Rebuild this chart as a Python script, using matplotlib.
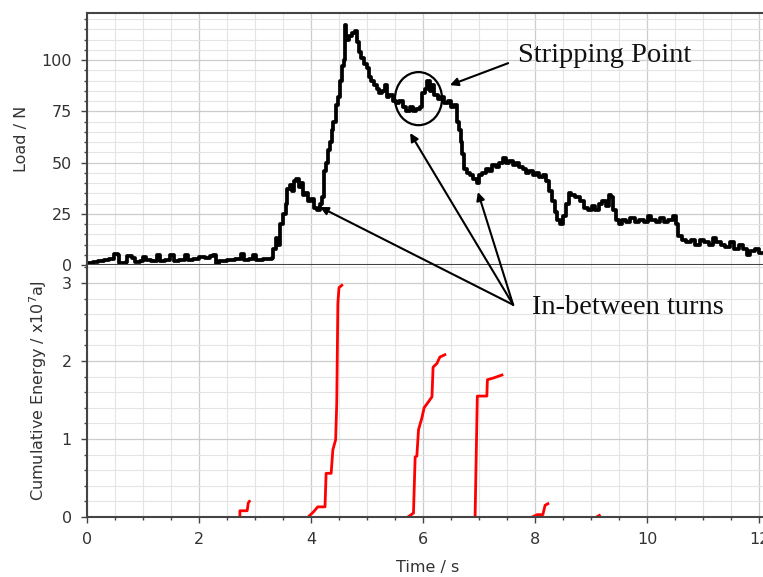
import matplotlib
matplotlib.use("Agg")
import matplotlib.pyplot as plt
import numpy as np
from matplotlib.patches import Ellipse, ConnectionPatch
from matplotlib.ticker import MultipleLocator

# Load trace (time / s, load / N)
time_s = [
    0.00, 0.10, 0.20, 0.30, 0.40, 0.48, 0.55, 0.58, 0.70, 0.72, 0.80, 0.85,
    0.95, 1.00, 1.05, 1.15, 1.25, 1.30, 1.40, 1.48, 1.55, 1.65, 1.75, 1.80,
    1.90, 2.00, 2.10, 2.20, 2.25, 2.30, 2.35, 2.50, 2.65, 2.75, 2.80, 2.90,
    2.97, 3.02, 3.15, 3.30, 3.33, 3.37, 3.40, 3.45, 3.50, 3.55, 3.58, 3.62,
    3.66, 3.70, 3.74, 3.78, 3.82, 3.86, 3.90, 3.95, 4.00, 4.05, 4.10, 4.16,
    4.20, 4.23, 4.27, 4.30, 4.34, 4.37, 4.40, 4.44, 4.48, 4.52, 4.56, 4.59,
    4.61, 4.63, 4.68, 4.73, 4.78, 4.82, 4.86, 4.90, 4.95, 5.00, 5.04, 5.08,
    5.13, 5.18, 5.22, 5.27, 5.32, 5.36, 5.40, 5.46, 5.52, 5.58, 5.64, 5.70,
    5.76, 5.82, 5.88, 5.94, 5.98, 6.03, 6.08, 6.12, 6.16, 6.20, 6.26, 6.32,
    6.38, 6.44, 6.50, 6.56, 6.60, 6.64, 6.67, 6.70, 6.73, 6.78, 6.84, 6.90,
    6.96, 7.00, 7.06, 7.12, 7.18, 7.24, 7.30, 7.36, 7.42, 7.48, 7.54, 7.60,
    7.66, 7.72, 7.78, 7.84, 7.90, 7.96, 8.02, 8.08, 8.14, 8.20, 8.25, 8.30,
    8.35, 8.40, 8.45, 8.50, 8.55, 8.60, 8.65, 8.72, 8.80, 8.88, 8.95, 9.02,
    9.08, 9.14, 9.20, 9.26, 9.32, 9.36, 9.40, 9.45, 9.50, 9.56, 9.62, 9.70,
    9.78, 9.86, 9.94, 10.02, 10.08, 10.16, 10.24, 10.30, 10.38, 10.46, 10.52,
    10.56, 10.62, 10.70, 10.78, 10.86, 10.94, 11.02, 11.10, 11.18, 11.24,
    11.32, 11.40, 11.48, 11.56, 11.64, 11.72, 11.78, 11.84, 11.92, 12.00,
    12.10, 12.20,
]
load_n = [
    1.0, 1.5, 2.0, 2.5, 3.0, 5.5, 5.0, 1.0, 1.5, 4.5, 3.5, 1.5,
    2.0, 4.0, 2.5, 2.0, 5.0, 2.0, 2.5, 5.0, 2.0, 2.5, 5.0, 2.5,
    3.0, 4.0, 3.5, 4.5, 5.0, 0.5, 2.0, 2.5, 3.0, 5.5, 2.5, 3.0,
    5.0, 2.5, 3.0, 3.5, 8.0, 13.0, 10.0, 20.0, 25.0, 30.0, 37.0, 39.0,
    36.0, 41.0, 42.0, 38.0, 40.0, 34.0, 35.0, 31.0, 32.0, 28.0, 27.0, 30.0,
    33.0, 46.0, 50.0, 56.0, 60.0, 66.0, 70.0, 78.0, 82.0, 90.0, 97.0, 100.0,
    117.0, 110.0, 112.0, 113.0, 114.0, 109.0, 104.0, 101.0, 98.0, 96.0, 92.0, 90.0,
    88.0, 86.0, 84.0, 85.0, 88.0, 82.0, 83.0, 80.0, 79.0, 80.0, 77.0, 75.0,
    77.0, 75.0, 76.0, 77.0, 84.0, 86.0, 90.0, 85.0, 88.0, 83.0, 81.0, 82.0,
    79.0, 80.0, 77.0, 78.0, 70.0, 66.0, 60.0, 54.0, 47.0, 45.0, 44.0, 42.0,
    40.0, 44.0, 45.0, 47.0, 46.0, 49.0, 48.0, 50.0, 52.0, 50.0, 51.0, 49.0,
    50.0, 48.0, 47.0, 45.0, 46.0, 44.0, 45.0, 43.0, 44.0, 41.0, 36.0, 31.0,
    26.0, 22.0, 20.0, 24.0, 30.0, 35.0, 34.0, 33.0, 31.0, 28.0, 27.0, 29.0,
    27.0, 30.0, 31.0, 29.0, 34.0, 33.0, 27.0, 22.0, 20.0, 22.0, 21.0, 23.0,
    21.0, 22.0, 21.0, 24.0, 22.0, 21.0, 23.0, 21.0, 22.0, 24.0, 20.0,
    14.0, 12.0, 11.0, 12.0, 10.0, 12.0, 11.0, 10.0, 13.0, 11.0,
    10.0, 9.0, 11.0, 8.0, 10.0, 8.0, 5.0, 7.0, 8.0, 6.0,
    7.0, 6.0,
]

# Cumulative energy bursts (time / s, energy / x10^7 aJ)
burst_t = [
    [2.73, 2.73, 2.86, 2.88, 2.90],
    [3.95, 4.05, 4.12, 4.25, 4.27, 4.36, 4.39, 4.44, 4.46, 4.48, 4.50, 4.55],
    [5.73, 5.83, 5.86, 5.89, 5.92, 5.98, 6.02, 6.10, 6.16, 6.18, 6.25, 6.30, 6.39],
    [6.93, 6.97, 7.14, 7.15, 7.25, 7.41],
    [7.95, 8.04, 8.14, 8.18, 8.23],
    [9.10, 9.15],
]
burst_e = [
    [0.0, 0.08, 0.08, 0.18, 0.20],
    [0.0, 0.07, 0.13, 0.13, 0.56, 0.56, 0.86, 0.99, 1.46, 2.74, 2.94, 2.97],
    [0.0, 0.05, 0.77, 0.78, 1.12, 1.27, 1.40, 1.48, 1.54, 1.92, 1.97, 2.05, 2.08],
    [0.0, 1.55, 1.55, 1.76, 1.78, 1.82],
    [0.0, 0.03, 0.03, 0.15, 0.17],
    [0.0, 0.02],
]

TICK_COLOR = "#333333"
SPINE_COLOR = "#444444"

fig = plt.figure(figsize=(7.63, 5.77), dpi=100)
ax1 = fig.add_axes([0.114, 0.5407, 0.894, 0.4368])
ax2 = fig.add_axes([0.114, 0.104, 0.894, 0.4367])

for ax in (ax1, ax2):
    ax.set_xlim(0, 12.18)
    ax.xaxis.set_major_locator(MultipleLocator(2))
    ax.xaxis.set_minor_locator(MultipleLocator(0.5))
    ax.grid(which="major", color="#cccccc", lw=0.9)
    ax.grid(which="minor", color="#e4e4e4", lw=0.8)
    ax.set_axisbelow(True)
    ax.tick_params(which="both", direction="out", colors=SPINE_COLOR,
                   labelcolor=TICK_COLOR, labelsize=11.5, width=1.0, pad=7)
    ax.tick_params(which="major", length=4)
    ax.tick_params(which="minor", length=2.5)
    ax.spines["right"].set_visible(False)
    for s in ("left", "bottom", "top"):
        ax.spines[s].set_color(SPINE_COLOR)
        ax.spines[s].set_linewidth(1.5)

# Top: load
ax1.plot(time_s, load_n, color="black", lw=2.7, drawstyle="steps-post")
ax1.set_ylim(0, 123)
ax1.yaxis.set_major_locator(MultipleLocator(25))
ax1.yaxis.set_minor_locator(MultipleLocator(5))
ax1.tick_params(axis="x", which="both", bottom=False, labelbottom=False)
ax1.set_ylabel("Load / N", fontsize=11.5, color=TICK_COLOR, labelpad=9)

# Bottom: cumulative energy
for bt, be in zip(burst_t, burst_e):
    ax2.plot(bt, be, color="red", lw=2.0)
ax2.set_ylim(0, 3.23)
ax2.yaxis.set_major_locator(MultipleLocator(1))
ax2.yaxis.set_minor_locator(MultipleLocator(0.2))
ax2.spines["top"].set_visible(False)
ax2.set_ylabel("Cumulative Energy / x10$^7$aJ", fontsize=11.5, color=TICK_COLOR,
               labelpad=9)
ax2.set_xlabel("Time / s", fontsize=11.5, color=TICK_COLOR, labelpad=9)

# Annotations
serif = "Liberation Serif"
ax1.add_patch(Ellipse((5.92, 81.2), 0.84, 25.9, fill=False, ec="black", lw=1.6))
ax1.annotate("", xy=(6.48, 87.8), xytext=(7.52, 98.5),
             arrowprops=dict(arrowstyle="-|>", color="black", lw=1.5,
                             mutation_scale=12, shrinkA=0, shrinkB=0))
ax1.text(7.70, 102.4, "Stripping Point", family=serif, fontsize=20.5,
         ha="left", va="center", color="#111111")

tail = (7.61, 2.72)
heads = [(4.16, 28.3), (5.77, 64.4), (6.98, 35.6)]
for hx, hy in heads:
    con = ConnectionPatch(xyA=tail, coordsA=ax2.transData, xyB=(hx, hy),
                          coordsB=ax1.transData, arrowstyle="-|>", color="black",
                          lw=1.5, mutation_scale=12, shrinkA=0, shrinkB=0)
    fig.add_artist(con)
ax2.text(7.95, 2.69, "In-between turns", family=serif, fontsize=20.5,
         ha="left", va="center", color="#111111")

fig.savefig("out.png", dpi=100)
